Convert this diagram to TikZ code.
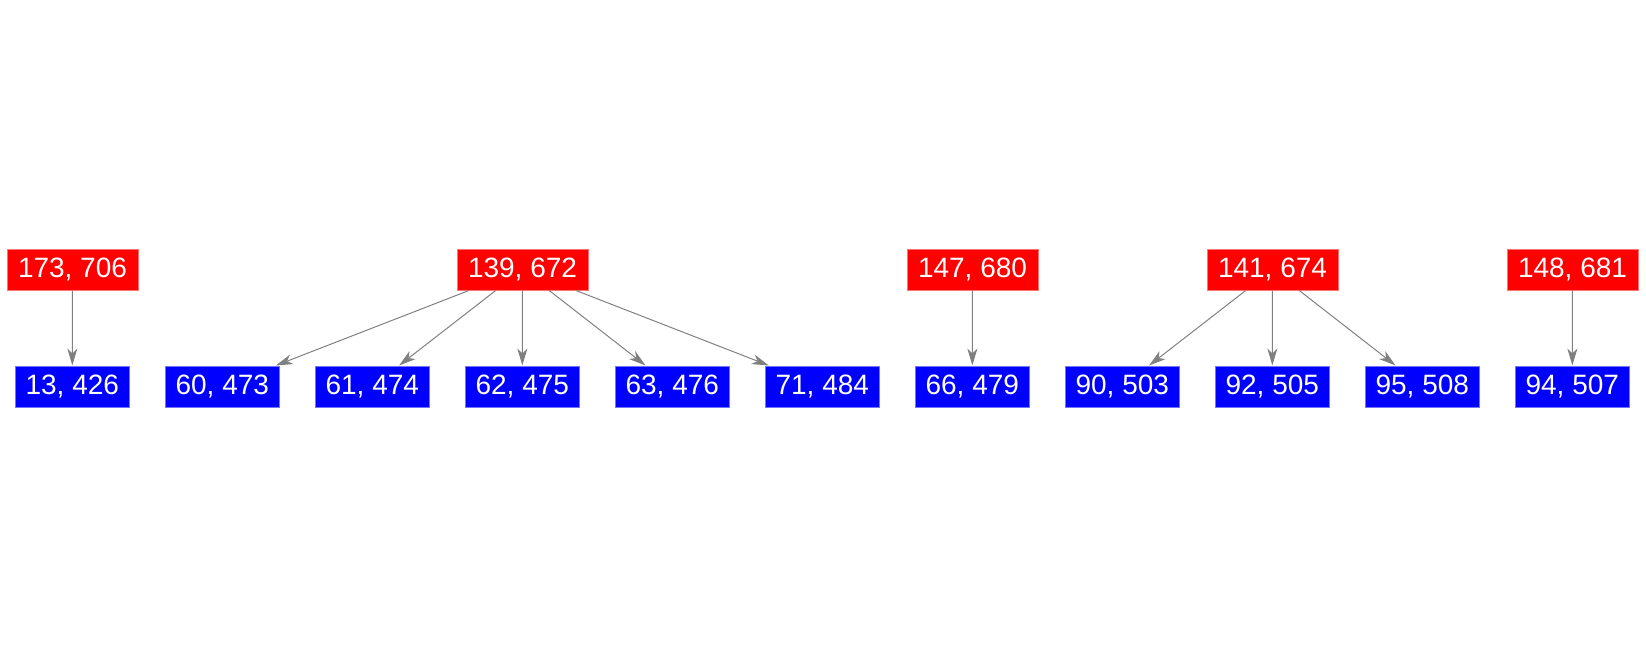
\documentclass[tikz,border=0pt]{standalone}
\usepackage{fontspec}
\setmainfont{Liberation Sans}
\usetikzlibrary{arrows.meta}
\definecolor{edgegray}{RGB}{128,128,128}
\tikzset{
  parentbox/.style={fill=red, draw=red!55!white, line width=0.6pt, text=white, minimum width=131pt, minimum height=41pt, inner sep=0pt, font=\fontsize{28}{28}\selectfont},
  childbox/.style={fill=blue, draw=blue!55!white, line width=0.6pt, text=white, minimum width=114pt, minimum height=41pt, inner sep=0pt, font=\fontsize{28}{28}\selectfont},
  link/.style={draw=edgegray, line width=1pt, -{Stealth[length=17pt, width=10pt, inset=5pt]}}
}
\begin{document}
\begin{tikzpicture}[x=1pt,y=-1pt]
\useasboundingbox (0,0) rectangle (1646,656);
% parents
\node[parentbox] (p1) at (72.5,269.7) {173, 706};
\node[parentbox] (p2) at (522.5,269.7) {139, 672};
\node[parentbox] (p3) at (972.5,269.7) {147, 680};
\node[parentbox] (p4) at (1272.5,269.7) {141, 674};
\node[parentbox] (p5) at (1572.5,269.7) {148, 681};
% children
\node[childbox] (c0) at (72.3,386.3) {13, 426};
\node[childbox] (c1) at (222.3,386.3) {60, 473};
\node[childbox] (c2) at (372.3,386.3) {61, 474};
\node[childbox] (c3) at (522.3,386.3) {62, 475};
\node[childbox] (c4) at (672.3,386.3) {63, 476};
\node[childbox] (c5) at (822.3,386.3) {71, 484};
\node[childbox] (c6) at (972.3,386.3) {66, 479};
\node[childbox] (c7) at (1122.3,386.3) {90, 503};
\node[childbox] (c8) at (1272.3,386.3) {92, 505};
\node[childbox] (c9) at (1422.3,386.3) {95, 508};
\node[childbox] (c10) at (1572.3,386.3) {94, 507};
% edges
\draw[link] (p1) -- (c0);
\draw[link] (p2) -- (c1);
\draw[link] (p2) -- (c2);
\draw[link] (p2) -- (c3);
\draw[link] (p2) -- (c4);
\draw[link] (p2) -- (c5);
\draw[link] (p3) -- (c6);
\draw[link] (p4) -- (c7);
\draw[link] (p4) -- (c8);
\draw[link] (p4) -- (c9);
\draw[link] (p5) -- (c10);
\end{tikzpicture}
\end{document}
